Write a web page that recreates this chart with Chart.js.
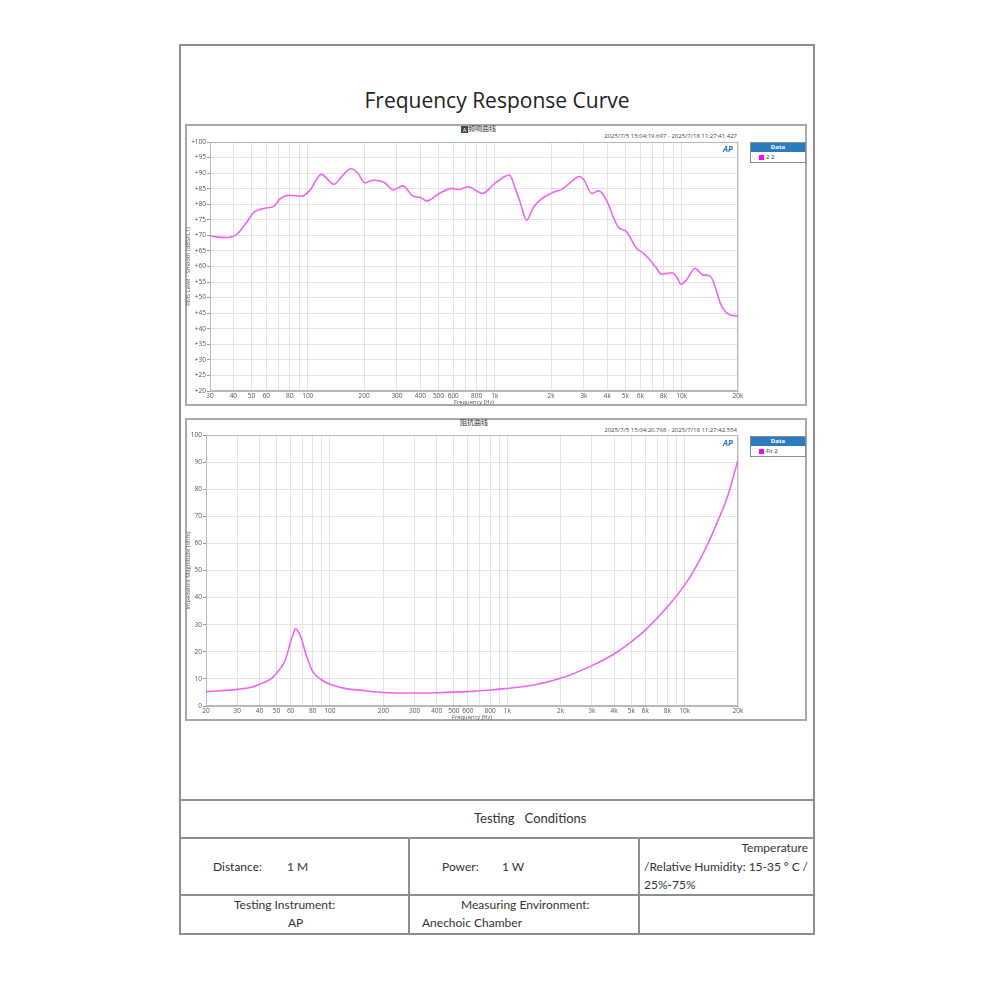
<!DOCTYPE html>
<html>
<head>
<meta charset="utf-8">
<script src="https://cdn.jsdelivr.net/npm/chart.js@4.4.0/dist/chart.umd.min.js"></script>
<style>
  body { margin: 0; width: 990px; height: 990px; background: #fff; position: relative; font-family: 'Open Sans', 'Noto Sans', sans-serif; color: #333; overflow: hidden; }
  .abs { position: absolute; }
  .line { position: absolute; background: #8e8e8e; }
  .panel { position: absolute; border: 2px solid #a8a8a8; box-sizing: border-box; }
  .wrap { position: absolute; }
  .hdr { position: absolute; font-family: 'Noto Sans CJK SC', sans-serif; font-size: 7px; color: #333; line-height: 8px; }
  .stamp { position: absolute; font-size: 6px; color: #444; line-height: 7px; text-align: right; width: 200px; }
  .logo { position: absolute; font-size: 8px; font-weight: bold; font-style: italic; color: #2f73bd; line-height: 8px; }
  .legend { position: absolute; width: 56px; border: 1px solid #8a8a8a; box-sizing: border-box; background: #fff; }
  .legend .lh { background: #2b7cbf; color: #fff; font-size: 6px; font-weight: bold; text-align: center; height: 9px; line-height: 9px; }
  .legend .lr { height: 10px; line-height: 10px; font-size: 6px; color: #333; padding-left: 8px; }
  .legend .sw { display: inline-block; width: 5px; height: 5px; background: #ff00ff; margin-right: 2px; vertical-align: -0.5px; }
  .t { position: absolute; font-family: Lato, 'Open Sans', sans-serif; font-size: 12px; line-height: 14px; color: #333; white-space: pre; }
  .spread { display: flex; justify-content: space-between; }
</style>
</head>
<body>

<!-- outer frame -->
<div class="panel" style="left:179px; top:44px; width:636px; height:891px; border-color:#8e8e8e;"></div>
<div class="abs" style="left:179px; top:86px; width:636px; text-align:center; font-size:21px; color:#222; line-height:28px;">Frequency Response Curve</div>

<!-- response panel -->
<div class="panel" style="left:185px; top:124px; width:622px; height:282px;"></div>
<div class="hdr" style="left:461px; top:124px;"><span style="display:inline-block; width:7px; height:7px; background:#3a4a5a; color:#fff; font-size:5px; line-height:7px; text-align:center; vertical-align:-1px;">A</span>频响曲线</div>
<div class="stamp" style="left:537px; top:133px;">2025/7/5 15:04:19.697 - 2025/7/18 11:27:41.427</div>
<div class="wrap" style="left:185px; top:124px; width:560px; height:282px;"><canvas id="respChart"></canvas></div>
<div class="logo" style="left:723px; top:145px;">AP</div>
<div class="legend" style="left:750px; top:142px;"><div class="lh">Data</div><div class="lr"><span class="sw"></span>2 2</div></div>

<!-- impedance panel -->
<div class="panel" style="left:185px; top:418px; width:622px; height:303px;"></div>
<div class="hdr" style="left:460px; top:418px;">阻抗曲线</div>
<div class="stamp" style="left:537px; top:427px;">2025/7/5 15:04:20.768 - 2025/7/18 11:27:42.554</div>
<div class="wrap" style="left:185px; top:418px; width:560px; height:303px;"><canvas id="impChart"></canvas></div>
<div class="logo" style="left:723px; top:439px;">AP</div>
<div class="legend" style="left:750px; top:436px;"><div class="lh">Data</div><div class="lr"><span class="sw"></span>Fit 2</div></div>

<!-- conditions table -->
<div class="line" style="left:179px; top:799px; width:636px; height:2px;"></div>
<div class="line" style="left:179px; top:837px; width:636px; height:2px;"></div>
<div class="line" style="left:179px; top:894px; width:636px; height:2px;"></div>
<div class="line" style="left:408px; top:837px; width:2px; height:97px;"></div>
<div class="line" style="left:638px; top:837px; width:2px; height:97px;"></div>

<div class="t" style="left:474px; top:811px; font-size:13px;">Testing   Conditions</div>
<div class="t" style="left:213px; top:860px;">Distance:</div>
<div class="t" style="left:287px; top:860px;">1 M</div>
<div class="t" style="left:442px; top:860px;">Power:</div>
<div class="t" style="left:502px; top:860px;">1 W</div>
<div class="t" style="left:644px; top:841px; width:164px; text-align:right;">Temperature</div>
<div class="t spread" style="left:644px; top:860px; width:164px;"><span>/Relative</span><span>Humidity:</span><span>15-35</span><span>º C</span><span>/</span></div>
<div class="t" style="left:644px; top:878px;">25%-75%</div>
<div class="t" style="left:234px; top:898px;">Testing Instrument:</div>
<div class="t" style="left:288px; top:916px;">AP</div>
<div class="t" style="left:461px; top:898px;">Measuring Environment:</div>
<div class="t" style="left:422px; top:916px;">Anechoic Chamber</div>

<script>
// ---- frequency response (dBSPL) ----
const respFreq = [30, 36, 41, 46, 52, 59, 66, 71, 80, 93,
    103, 118, 138, 152, 170, 186, 202, 224, 257, 287,
    322, 366, 400, 433, 500, 591, 640, 720, 860, 1000,
    1060, 1130, 1200, 1280, 1370, 1480, 1610, 1780, 2000, 2330,
    2600, 2830, 3000, 3300, 3610, 3950, 4560, 5060, 5740, 6200,
    6760, 7340, 7780, 8860, 9400, 9900, 10600, 11800, 13000, 14200,
    16400, 18200, 20000];
const respLevel = [69.8, 69.3, 70.0, 73.3, 77.6, 78.7, 79.4, 81.7, 82.9, 82.6,
    84.6, 89.6, 86.4, 88.9, 91.4, 89.9, 86.9, 87.7, 87.0, 84.6,
    85.9, 82.6, 82.2, 81.0, 83.3, 85.1, 84.7, 85.6, 83.5, 86.7,
    87.8, 88.9, 89.4, 85.5, 80.5, 74.9, 79.0, 81.7, 83.5, 85.1,
    87.5, 88.9, 87.8, 83.5, 84.3, 81.4, 72.8, 71.2, 65.8, 64.4,
    62.1, 59.4, 57.5, 58.0, 56.7, 54.3, 55.7, 59.4, 57.3, 56.9,
    47.1, 44.4, 44.1];

// ---- impedance (ohm) ----
const impFreq = [20, 30, 36, 40, 46, 50, 53, 56, 60, 62,
    64, 68, 74, 80, 90, 100, 121, 157, 200, 315,
    408, 600, 780, 970, 1410, 2000, 3000, 4000, 5000, 6000,
    8000, 10000, 11500, 13000, 15100, 17500, 20000];
const impOhm = [5.3, 6.15, 6.9, 8.0, 9.8, 12.1, 14.2, 17.0, 23.6, 26.4,
    28.6, 26.0, 18.2, 12.7, 9.6, 8.0, 6.5, 5.65, 5.0, 4.8,
    4.9, 5.3, 5.8, 6.4, 7.75, 10.2, 14.9, 19.2, 23.7, 28.0,
    36.6, 44.6, 51.0, 57.5, 67.0, 77.5, 90.8];

// grid lines and labelled ticks on the frequency axis
const respGrid = [30, 40, 50, 60, 70, 80, 90, 100, 200, 300, 400, 500, 600, 700, 800, 900,
    1000, 2000, 3000, 4000, 5000, 6000, 7000, 8000, 9000, 10000, 20000];
const impGrid = [20].concat(respGrid);
const freqLabels = [20, 30, 40, 50, 60, 80, 100, 200, 300, 400, 500, 600, 800,
    1000, 2000, 3000, 4000, 5000, 6000, 8000, 10000, 20000];

const fmtHz = v => v >= 1000 ? (v / 1000) + 'k' : String(v);

// light frame round the plot area
const plotBorder = {
    id: 'plotBorder',
    beforeDatasetsDraw(chart) {
        const { ctx, chartArea: a } = chart;
        ctx.save();
        ctx.strokeStyle = '#b8b8b8';
        ctx.lineWidth = 1;
        ctx.strokeRect(a.left + 0.5, a.top + 0.5, a.width - 1, a.height - 1);
        ctx.restore();
    },
};

function makeChart(canvasId, { freq, vals, grid, xMin, yMin, yMax, yStep, plus, yTitle, padTop, yWidth }) {
    const canvas = document.getElementById(canvasId);
    if (!canvas) return null;

    return new Chart(canvas.getContext('2d'), {
        type: 'line',
        data: {
            datasets: [{
                data: freq.map((f, i) => ({ x: f, y: vals[i] })),
                borderColor: '#f064f0',
                borderWidth: 1.6,
                pointRadius: 0,
                cubicInterpolationMode: 'monotone',
                fill: false,
            }],
        },
        options: {
            responsive: true,
            maintainAspectRatio: false,
            animation: false,
            layout: { padding: { top: padTop, right: 7, left: 0, bottom: 0 } },
            plugins: { legend: { display: false }, tooltip: { enabled: false } },
            scales: {
                x: {
                    type: 'logarithmic',
                    min: xMin,
                    max: 20000,
                    afterBuildTicks: s => { s.ticks = grid.map(v => ({ value: v })); },
                    afterFit: s => { s.height = 15; s.paddingLeft = 0; s.paddingRight = 0; },
                    ticks: {
                        autoSkip: false, maxRotation: 0, minRotation: 0, padding: 1,
                        color: '#555', font: { size: 6.5, family: 'Open Sans' },
                        callback: v => freqLabels.includes(v) ? fmtHz(v) : '',
                    },
                    grid: { color: '#e3e3e3', drawTicks: false },
                    border: { color: '#b8b8b8' },
                    title: { display: true, text: 'Frequency (Hz)', color: '#555', font: { size: 5.8, family: 'Open Sans' }, padding: 0 },
                },
                y: {
                    min: yMin,
                    max: yMax,
                    afterFit: s => { s.width = yWidth; s.paddingTop = 0; s.paddingBottom = 0; },
                    ticks: {
                        stepSize: yStep, padding: 1,
                        color: '#555', font: { size: 6.5, family: 'Open Sans' },
                        callback: v => (plus ? '+' : '') + v,
                    },
                    grid: { color: '#e3e3e3', tickLength: 3, tickColor: '#999' },
                    border: { color: '#b8b8b8' },
                    title: { display: true, text: yTitle, color: '#555', font: { size: 5.8, family: 'Open Sans' }, padding: 0 },
                },
            },
        },
        plugins: [plotBorder],
    });
}

makeChart('respChart', {
    freq: respFreq, vals: respLevel, grid: respGrid, xMin: 30,
    yMin: 20, yMax: 100, yStep: 5, plus: true,
    yTitle: 'RMS Level - Smooth (dBSPL1)', padTop: 18, yWidth: 25,
});

makeChart('impChart', {
    freq: impFreq, vals: impOhm, grid: impGrid, xMin: 20,
    yMin: 0, yMax: 100, yStep: 10, plus: false,
    yTitle: 'Impedance Magnitude (ohm)', padTop: 17, yWidth: 21,
});
</script>
</body>
</html>
